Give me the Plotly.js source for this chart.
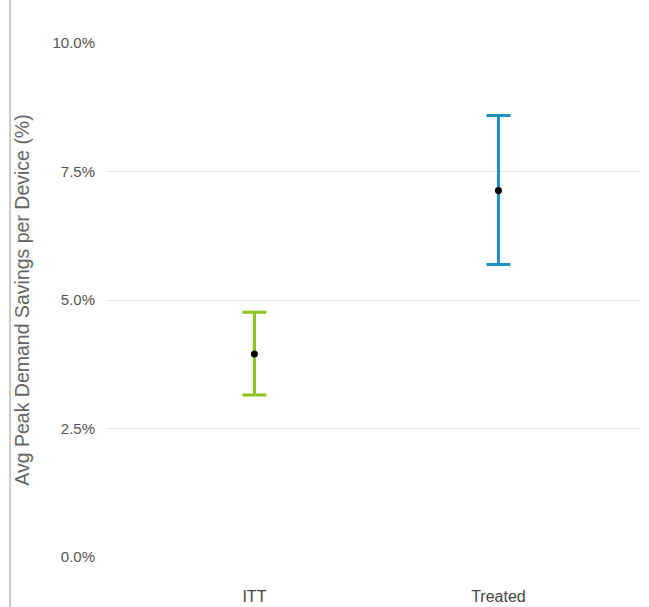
<!DOCTYPE html>
<html>
<head>
<meta charset="utf-8">
<script src="https://cdn.plot.ly/plotly-3.0.1.min.js"></script>
<style>html,body{margin:0;padding:0;background:#fff;}#chart{width:649px;height:607px;}</style>
</head>
<body>
<div id="chart"></div>
<script>
const categories = ["ITT", "Treated"];
const means = [3.95, 7.13];
const upper = [4.76, 8.59];
const lower = [3.15, 5.69];
const colors = ["#8dc21f", "#1f8fc2"];
const yTickVals = [0, 2.5, 5, 7.5, 10];
const yTickText = ["0.0%", "2.5%", "5.0%", "7.5%", "10.0%"];

const traces = categories.map((c, i) => ({
  type: "scatter",
  mode: "markers",
  x: [c],
  y: [means[i]],
  marker: {color: "#000", size: 7},
  error_y: {
    type: "data",
    symmetric: false,
    array: [upper[i] - means[i]],
    arrayminus: [means[i] - lower[i]],
    color: colors[i],
    thickness: 3,
    width: 12
  },
  showlegend: false,
  hoverinfo: "skip"
}));

const layout = {
  width: 649,
  height: 607,
  margin: {l: 108, r: 9, t: 43, b: 50},
  paper_bgcolor: "#fff",
  plot_bgcolor: "#fff",
  font: {family: "Liberation Sans, Arial, sans-serif", color: "#555"},
  xaxis: {
    type: "category",
    range: [-0.6, 1.58],
    showgrid: false,
    zeroline: false,
    showline: false,
    ticks: "",
    tickfont: {size: 16, color: "#444"},
    ticklabelstandoff: 28
  },
  yaxis: {
    range: [0, 10],
    tickvals: yTickVals,
    ticktext: yTickText,
    showgrid: true,
    gridcolor: "#e6e6e6",
    gridwidth: 1,
    zeroline: false,
    showline: false,
    ticks: "",
    tickfont: {size: 15, color: "#555"},
    ticklabelstandoff: 12,
    title: {text: "Avg Peak Demand Savings per Device (%)", font: {size: 19.5, color: "#666"}, standoff: 17},
    automargin: false
  },
  shapes: [{
    type: "line",
    xref: "paper", yref: "paper",
    x0: -0.184, x1: -0.184,
    y0: -0.1, y1: 1.09,
    line: {color: "#bbbbbb", width: 1.5}
  }]
};

Plotly.newPlot("chart", traces, layout, {displayModeBar: false, staticPlot: true});
</script>
</body>
</html>
